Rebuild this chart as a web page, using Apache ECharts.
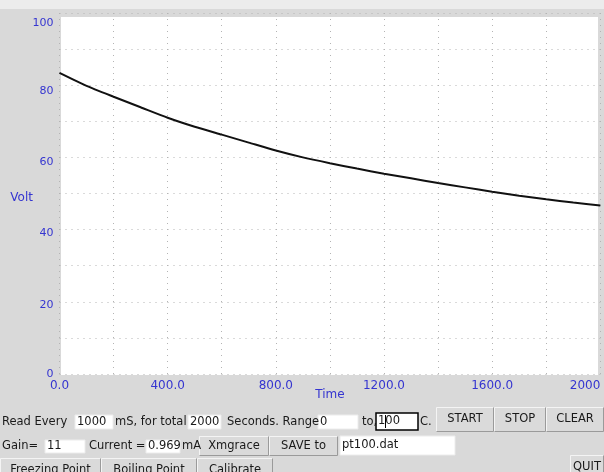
<!DOCTYPE html>
<html><head><meta charset="utf-8">
<script src="https://cdn.jsdelivr.net/npm/echarts@6/dist/echarts.min.js"></script>
<style>html,body{margin:0;padding:0;background:#d9d9d9;overflow:hidden}#c{width:604px;height:472px}</style>
</head><body><div id="c"></div>
<script>
// ---- data ----
const timeSeconds = [0,100,200,300,400,500,600,700,800,900,1000,1100,1200,1300,1400,1500,1600,1700,1800,1900,2000];
const voltValues  = [83.4,79.8,76.8,73.9,71.0,68.5,66.3,64.1,61.9,60.0,58.4,56.9,55.5,54.2,52.9,51.7,50.5,49.4,48.4,47.5,46.7];
const xTickValues = [0,400,800,1200,1600,2000];
const xTickLabels = ['0.0','400.0','800.0','1200.0','1600.0','2000'];
const yTickValues = [0,20,40,60,80,100];
const yTickLabels = ['0','20','40','60','80','100'];
const xAxisName = 'Time';
const yAxisName = 'Volt';

const FONT = '"DejaVu Sans", sans-serif';
const WFONT = '11.5px ' + FONT;
const BLUE = '#3535d0';
const TXT = '#1a1a1a';

// per-label vertical nudge (style only) so y tick labels sit like the reference
const yLabelPad = [0, 6, 8, 9, 11, 20];
const yRich = {};
yTickLabels.forEach((t, i) => { yRich['p' + i] = {padding:[yLabelPad[i], 0, 0, 0], color:BLUE, fontFamily:'DejaVu Sans', fontSize:11}; });

function label(x, y, text) {
  return {type:'text', x:x, y:y, z:10, style:{text:text, fill:TXT, font:WFONT, align:'left', verticalAlign:'middle'}};
}
function entry(x, y, w, h, text, focus) {
  return [
    {type:'rect', z:9, shape:{x:x, y:y, width:w, height:h}, style:{fill:'#ffffff', stroke: focus ? '#000000' : '#ececec', lineWidth: focus ? 1.5 : 1}},
    {type:'text', x:x+2, y:y+h/2, z:10, style:{text:text, fill:TXT, font:WFONT, align:'left', verticalAlign:'middle'}}
  ];
}
function button(x, y, w, h, text) {
  return [
    {type:'rect', z:9, shape:{x:x, y:y, width:w, height:h}, style:{fill:'#dadada'}},
    {type:'polyline', z:9, shape:{points:[[x+0.5,y+h-0.5],[x+0.5,y+0.5],[x+w-0.5,y+0.5]]}, style:{stroke:'#f4f4f4', lineWidth:1, fill:null}},
    {type:'polyline', z:9, shape:{points:[[x+0.5,y+h-0.5],[x+w-0.5,y+h-0.5],[x+w-0.5,y+0.5]]}, style:{stroke:'#9a9a9a', lineWidth:1, fill:null}},
    {type:'text', x:x+w/2, y:y+h/2, z:10, style:{text:text, fill:TXT, font:WFONT, align:'center', verticalAlign:'middle'}}
  ];
}

const graphics = [].concat(
  [{type:'rect', z:0, shape:{x:0, y:0, width:604, height:9}, style:{fill:'#ececec'}}],
  [{type:'rect', z:-1, silent:true, shape:{x:61, y:17, width:537, height:358}, style:{fill:'#ffffff'}}],
  // row 1
  [label(2, 422, 'Read Every')],
  entry(75, 415, 38, 14, '1000'),
  [label(115, 422, 'mS, for total')],
  entry(188, 415, 33, 14, '2000'),
  [label(227, 422, 'Seconds. Range')],
  entry(318, 415, 40, 14, '0'),
  [label(362, 422, 'to,')],
  entry(376, 413, 42, 17, '100', true),
  [{type:'line', z:11, shape:{x1:385.5, y1:415, x2:385.5, y2:428}, style:{stroke:'#000', lineWidth:1}}],
  [label(420, 422, 'C.')],
  button(436, 407, 58, 25, 'START'),
  button(494, 407, 52, 25, 'STOP'),
  button(546, 407, 58, 25, 'CLEAR'),
  // row 2
  [label(2, 446, 'Gain=')],
  entry(45, 440, 40, 13, '11'),
  [label(89, 446, 'Current =')],
  entry(146, 440, 34, 13, '0.969'),
  [label(182, 446, 'mA')],
  button(199, 436, 70, 20, 'Xmgrace'),
  button(269, 436, 69, 20, 'SAVE to'),
  entry(340, 436, 115, 19, 'pt100.dat'),
  // row 3
  button(0, 458, 101, 24, 'Freezing Point'),
  button(101, 458, 96, 24, 'Boiling Point'),
  button(197, 458, 76, 24, 'Calibrate'),
  button(570, 455, 34, 24, 'QUIT')
);

const chart = echarts.init(document.getElementById('c'), null, {renderer:'canvas', width:604, height:472});
chart.setOption({
  animation:false,
  backgroundColor:'#d9d9d9',
  grid:{left:59.5, right:3.7, top:13, bottom:98, show:false},
  xAxis:{
    type:'value', min:0, max:2000, interval:200,
    name:xAxisName, nameLocation:'middle', nameGap:15, nameMoveOverlap:false,
    nameTextStyle:{color:BLUE, fontFamily:'DejaVu Sans', fontSize:12},
    axisLine:{show:false}, axisTick:{show:false},
    axisLabel:{color:BLUE, fontFamily:'DejaVu Sans', fontSize:12, margin:6, alignMaxLabel:'right',
      formatter:function(v){ const i = xTickValues.indexOf(v); return i >= 0 ? xTickLabels[i] : ''; }},
    splitLine:{show:true, lineStyle:{color:'#b4b4b4', width:1, type:[1,5]}}
  },
  yAxis:{
    type:'value', min:0, max:100, interval:10,
    name:'{v|' + yAxisName + '}', nameLocation:'middle', nameRotate:0, nameGap:26.5, nameMoveOverlap:false,
    nameTextStyle:{color:BLUE, fontFamily:'DejaVu Sans', fontSize:12, align:'right',
      rich:{v:{color:BLUE, fontFamily:'DejaVu Sans', fontSize:12, padding:[8,0,0,0]}}},
    axisLine:{show:false}, axisTick:{show:false},
    axisLabel:{color:BLUE, fontFamily:'DejaVu Sans', fontSize:11, margin:6, verticalAlign:'middle', rich:yRich,
      formatter:function(v){ const i = yTickValues.indexOf(v); return i >= 0 ? '{p' + i + '|' + yTickLabels[i] + '}' : ''; }},
    splitLine:{show:true, lineStyle:{color:'#b4b4b4', width:1, type:[1,5]}}
  },
  series:[{
    type:'line', data:timeSeconds.map((t,i)=>[t, voltValues[i]]),
    showSymbol:false, smooth:0.2, lineStyle:{color:'#111111', width:2}, clip:true
  }],
  graphic:graphics
});
</script>
</body></html>
